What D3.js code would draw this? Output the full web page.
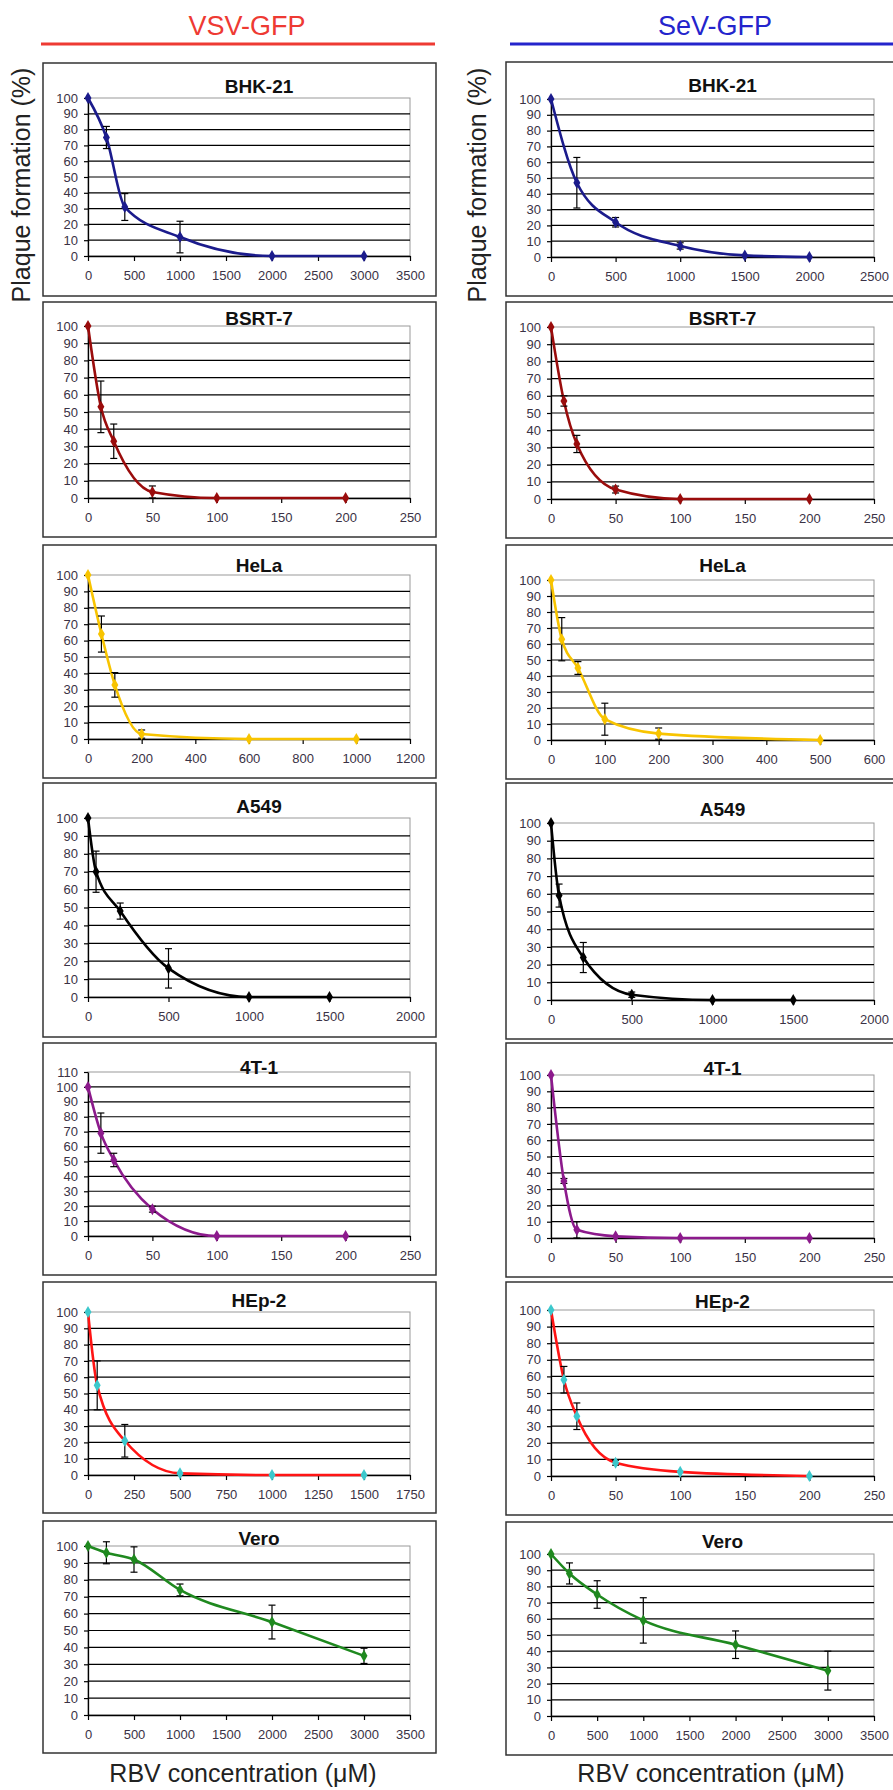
<!DOCTYPE html>
<html>
<head>
<meta charset="utf-8">
<script src="https://cdn.jsdelivr.net/npm/d3@7"></script>
<style>
  body { margin: 0; background: #fff; }
  svg { display: block; font-family: "Liberation Sans", Arial, sans-serif; }
</style>
</head>
<body>
<svg id="chart" width="893" height="1790"></svg>
<script>
const cellLines = ["BHK-21", "BSRT-7", "HeLa", "A549", "4T-1", "HEp-2", "Vero"];

// [RBV concentration (uM), plaque formation (%), error]
const vsvBHK21 = [[0, 100, 0], [200, 75, 7], [400, 31, 8.5], [1000, 12, 10], [2000, 0, 0], [3000, 0, 0]];
const vsvBSRT7 = [[0, 100, 0], [10, 53, 15], [20, 33, 10], [50, 3.5, 3.5], [100, 0, 0], [200, 0, 0]];
const vsvHeLa = [[0, 100, 0], [50, 64, 11], [100, 33, 7.5], [200, 3, 2.5], [600, 0, 0], [1000, 0, 0]];
const vsvA549 = [[0, 100, 0], [50, 70, 11.5], [200, 48, 4.5], [500, 16, 11], [1000, 0, 0], [1500, 0, 0]];
const vsv4T1 = [[0, 100, 0], [10, 69, 13.5], [20, 51, 4.5], [50, 18, 2], [100, 0, 0], [200, 0, 0]];
const vsvHEp2 = [[0, 100, 0], [50, 55, 15], [200, 21, 10], [500, 1, 0], [1000, 0, 0], [1500, 0, 0]];
const vsvVero = [[0, 100, 0], [200, 96, 6.5], [500, 92, 7.5], [1000, 74, 3.5], [2000, 55, 10], [3000, 35, 4.5]];

const sevBHK21 = [[0, 100, 0], [200, 47, 16], [500, 22, 3], [1000, 7, 2], [1500, 1, 0], [2000, 0, 0]];
const sevBSRT7 = [[0, 100, 0], [10, 57, 3], [20, 32, 5], [50, 5.5, 2], [100, 0, 0], [200, 0, 0]];
const sevHeLa = [[0, 100, 0], [20, 63, 13.5], [50, 45, 4], [100, 13, 10], [200, 4, 3.5], [500, 0, 0]];
const sevA549 = [[0, 100, 0], [50, 59, 6.5], [200, 24, 8.5], [500, 3, 1.5], [1000, 0, 0], [1500, 0, 0]];
const sev4T1 = [[0, 100, 0], [10, 35, 1.5], [20, 5, 5], [50, 1, 0], [100, 0, 0], [200, 0, 0]];
const sevHEp2 = [[0, 100, 0], [10, 58, 8], [20, 36, 8], [50, 8, 1.5], [100, 2.5, 0], [200, 0, 0]];
const sevVero = [[0, 100, 0], [200, 88, 6.5], [500, 75, 8.5], [1000, 59, 14], [2000, 44, 8.5], [3000, 28, 12]];

const vsvSeries = [vsvBHK21, vsvBSRT7, vsvHeLa, vsvA549, vsv4T1, vsvHEp2, vsvVero];
const sevSeries = [sevBHK21, sevBSRT7, sevHeLa, sevA549, sev4T1, sevHEp2, sevVero];

// axis ranges per panel
const vsvXMax = [3500, 250, 1200, 2000, 250, 1750, 3500];
const vsvXStep = [500, 50, 200, 500, 50, 250, 500];
const vsvYMax = [100, 100, 100, 100, 110, 100, 100];
const sevXMax = [2500, 250, 600, 2000, 250, 250, 3500];
const sevXStep = [500, 50, 100, 500, 50, 50, 500];
const sevYMax = [100, 100, 100, 100, 100, 100, 100];

const lineColors = ["#1b1b8c", "#9a0c0c", "#f8c400", "#000000", "#8c1a8c", "#ff1414", "#1f891f"];
const markerColors = ["#1b1b8c", "#9a0c0c", "#f8c400", "#000000", "#8c1a8c", "#3cc8cc", "#1f891f"];

// layout of each panel: box top/bottom, plot top/bottom, title baseline
const leftLayout = [
  [63, 296, 98, 256, 93],
  [302, 537, 326, 498, 325],
  [545, 778, 575, 739, 572],
  [783, 1037, 818, 997, 813],
  [1043, 1275, 1072, 1236, 1074],
  [1282, 1513, 1312, 1475, 1307],
  [1521, 1753, 1546, 1715, 1545],
];
const rightLayout = [
  [62, 296, 99, 257, 92],
  [302, 538, 327, 499, 325],
  [545, 779, 580, 740, 572],
  [783, 1039, 823, 1000, 816],
  [1043, 1277, 1075, 1238, 1075],
  [1282, 1515, 1310, 1476, 1308],
  [1522, 1755, 1554, 1716, 1548],
];

const svg = d3.select("#chart");
svg.append("rect").attr("width", 893).attr("height", 1790).attr("fill", "#fff");

function drawColumn(opts) {
  const col = svg.append("g");

  // virus header
  col.append("text")
    .attr("x", opts.titleX)
    .attr("y", 35)
    .attr("text-anchor", "middle")
    .attr("font-size", 27)
    .attr("fill", opts.color)
    .text(opts.title);
  col.append("line")
    .attr("x1", opts.ruleX[0]).attr("x2", opts.ruleX[1])
    .attr("y1", 44).attr("y2", 44)
    .attr("stroke", opts.color)
    .attr("stroke-width", 3);

  // y label
  col.append("text")
    .attr("transform", `translate(${opts.yLabelX},185) rotate(-90)`)
    .attr("text-anchor", "middle")
    .attr("font-size", 25)
    .attr("fill", "#222")
    .text("Plaque formation (%)");

  // x label
  col.append("text")
    .attr("x", opts.xLabelX)
    .attr("y", 1782)
    .attr("text-anchor", "middle")
    .attr("font-size", 25)
    .attr("fill", "#222")
    .text("RBV concentration (\u03BCM)");

  opts.series.forEach((data, i) => {
    const [boxTop, boxBottom, plotTop, plotBottom, titleY] = opts.layout[i];
    const g = col.append("g");

    g.append("rect")
      .attr("x", opts.boxX[0]).attr("y", boxTop)
      .attr("width", opts.boxX[1] - opts.boxX[0])
      .attr("height", boxBottom - boxTop)
      .attr("fill", "#fff")
      .attr("stroke", "#333")
      .attr("stroke-width", 1.5);

    const xScale = d3.scaleLinear()
      .domain([0, opts.xMax[i]])
      .range([opts.plotX[0], opts.plotX[1]]);
    const yScale = d3.scaleLinear()
      .domain([0, opts.yMax[i]])
      .range([plotBottom, plotTop]);

    // plot area border
    g.append("rect")
      .attr("x", opts.plotX[0]).attr("y", plotTop)
      .attr("width", opts.plotX[1] - opts.plotX[0])
      .attr("height", plotBottom - plotTop)
      .attr("fill", "none")
      .attr("stroke", "#999")
      .attr("stroke-width", 1);

    const yTicks = d3.range(0, opts.yMax[i] + 1, 10);

    // gridlines
    g.selectAll(".grid")
      .data(yTicks.filter((t) => t > 0 && t < opts.yMax[i]))
      .enter()
      .append("line")
      .attr("x1", opts.plotX[0]).attr("x2", opts.plotX[1])
      .attr("y1", (d) => yScale(d)).attr("y2", (d) => yScale(d))
      .attr("stroke", "#000")
      .attr("stroke-width", 1.2);

    // axes
    const yAxis = d3.axisLeft(yScale).tickValues(yTicks).tickSize(4).tickSizeOuter(0).tickPadding(6);
    const xAxis = d3.axisBottom(xScale)
      .tickValues(d3.range(0, opts.xMax[i] + 1, opts.xStep[i]))
      .tickFormat(d3.format("d"))
      .tickSize(5).tickSizeOuter(0).tickPadding(10);

    const ya = g.append("g").attr("transform", `translate(${opts.plotX[0]},0)`).call(yAxis);
    const xa = g.append("g").attr("transform", `translate(0,${plotBottom})`).call(xAxis);
    [ya, xa].forEach((a) => {
      a.select(".domain").attr("stroke", "#000").attr("stroke-width", 1.3);
      a.selectAll(".tick line").attr("stroke", "#000").attr("stroke-width", 1.2);
      a.selectAll(".tick text")
        .attr("font-family", "\"Liberation Sans\", Arial, sans-serif")
        .attr("font-size", 13)
        .attr("fill", "#3a3245");
    });

    // panel title
    g.append("text")
      .attr("x", (opts.plotX[0] + opts.plotX[1]) / 2 + 10)
      .attr("y", titleY)
      .attr("text-anchor", "middle")
      .attr("font-size", 19)
      .attr("font-weight", "bold")
      .attr("fill", "#111")
      .text(cellLines[i]);

    // curve
    const line = d3.line()
      .x((d) => xScale(d[0]))
      .y((d) => yScale(d[1]))
      .curve(d3.curveMonotoneX);

    g.append("path")
      .datum(data)
      .attr("fill", "none")
      .attr("stroke", lineColors[i])
      .attr("stroke-width", 2.6)
      .attr("d", line);

    // error bars
    const errs = data.filter((d) => d[2] > 0);
    const eb = g.selectAll(".err").data(errs).enter().append("g").attr("class", "err");
    eb.append("line")
      .attr("x1", (d) => xScale(d[0])).attr("x2", (d) => xScale(d[0]))
      .attr("y1", (d) => yScale(d[1] + d[2]))
      .attr("y2", (d) => yScale(Math.max(0, d[1] - d[2])))
      .attr("stroke", "#000").attr("stroke-width", 1.2);
    [1, -1].forEach((s) => {
      eb.append("line")
        .attr("x1", (d) => xScale(d[0]) - 3.5).attr("x2", (d) => xScale(d[0]) + 3.5)
        .attr("y1", (d) => yScale(Math.max(0, d[1] + s * d[2])))
        .attr("y2", (d) => yScale(Math.max(0, d[1] + s * d[2])))
        .attr("stroke", "#000").attr("stroke-width", 1.2);
    });

    // markers
    g.selectAll(".pt")
      .data(data)
      .enter()
      .append("path")
      .attr("class", "pt")
      .attr("d", d3.symbol(d3.symbolDiamond, 42))
      .attr("transform", (d) => `translate(${xScale(d[0])},${yScale(d[1])})`)
      .attr("fill", markerColors[i]);
  });
}

drawColumn({
  title: "VSV-GFP",
  color: "#ee3a33",
  titleX: 247,
  ruleX: [41, 435],
  yLabelX: 30,
  xLabelX: 243,
  boxX: [43, 436],
  plotX: [88, 410],
  layout: leftLayout,
  series: vsvSeries,
  xMax: vsvXMax,
  xStep: vsvXStep,
  yMax: vsvYMax,
});

drawColumn({
  title: "SeV-GFP",
  color: "#2424cc",
  titleX: 715,
  ruleX: [510, 893],
  yLabelX: 486,
  xLabelX: 711,
  boxX: [506, 899],
  plotX: [551, 874],
  layout: rightLayout,
  series: sevSeries,
  xMax: sevXMax,
  xStep: sevXStep,
  yMax: sevYMax,
});
</script>
</body>
</html>
